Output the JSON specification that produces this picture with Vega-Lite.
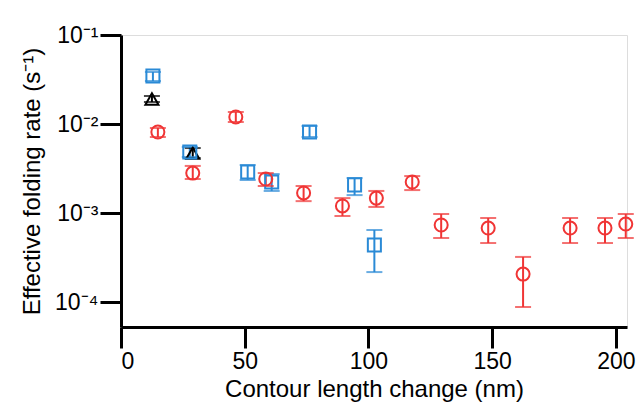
{
  "$schema": "https://vega.github.io/schema/vega-lite/v6.json",
  "width": 506,
  "height": 292,
  "autosize": "none",
  "padding": {"left": 121, "top": 35, "right": 11, "bottom": 79},
  "data": {
    "values": [
      {"series": "Monomer", "x": 12.5, "y": 0.0191, "lo": 0.01766, "hi": 0.02065},
      {"series": "Monomer", "x": 29, "y": 0.00472, "lo": 0.00415, "hi": 0.00537},
      {"series": "Dimer", "x": 12.9, "y": 0.0346, "lo": 0.0304, "hi": 0.0384},
      {"series": "Dimer", "x": 27.8, "y": 0.00484, "lo": 0.00426, "hi": 0.00552},
      {"series": "Dimer", "x": 51.2, "y": 0.00289, "lo": 0.00235, "hi": 0.00346},
      {"series": "Dimer", "x": 60.9, "y": 0.00223, "lo": 0.00177, "hi": 0.00274},
      {"series": "Dimer", "x": 76.2, "y": 0.00813, "lo": 0.00714, "hi": 0.0095},
      {"series": "Dimer", "x": 94.4, "y": 0.00207, "lo": 0.00159, "hi": 0.00247},
      {"series": "Dimer", "x": 102.4, "y": 0.000437, "lo": 0.000217, "hi": 0.000644},
      {"series": "Tetramer", "x": 14.9, "y": 0.00813, "lo": 0.00714, "hi": 0.00902},
      {"series": "Tetramer", "x": 29, "y": 0.00281, "lo": 0.00241, "hi": 0.00338},
      {"series": "Tetramer", "x": 46.4, "y": 0.012, "lo": 0.01053, "hi": 0.01365},
      {"series": "Tetramer", "x": 58.5, "y": 0.00241, "lo": 0.00201, "hi": 0.00281},
      {"series": "Tetramer", "x": 73.8, "y": 0.00168, "lo": 0.00136, "hi": 0.00201},
      {"series": "Tetramer", "x": 89.5, "y": 0.0012, "lo": 0.000925, "hi": 0.00147},
      {"series": "Tetramer", "x": 103.2, "y": 0.00147, "lo": 0.00117, "hi": 0.00177},
      {"series": "Tetramer", "x": 117.7, "y": 0.00223, "lo": 0.00181, "hi": 0.0026},
      {"series": "Tetramer", "x": 129.4, "y": 0.000733, "lo": 0.000524, "hi": 0.000975},
      {"series": "Tetramer", "x": 148.4, "y": 0.000678, "lo": 0.00046, "hi": 0.000879},
      {"series": "Tetramer", "x": 162.5, "y": 0.000206, "lo": 0.0000879, "hi": 0.000321},
      {"series": "Tetramer", "x": 181.5, "y": 0.000678, "lo": 0.00046, "hi": 0.000879},
      {"series": "Tetramer", "x": 195.6, "y": 0.000678, "lo": 0.00046, "hi": 0.000879},
      {"series": "Tetramer", "x": 204, "y": 0.000752, "lo": 0.000524, "hi": 0.000975}
    ]
  },
  "encoding": {
    "x": {"field": "x", "type": "quantitative", "scale": {"domain": [0, 204.5], "nice": false},
      "axis": {"values": [0, 50, 100, 150, 200], "gridOpacity": 0, "domainColor": "black", "domainWidth": 3, "tickColor": "black", "tickWidth": 3, "tickSize": 21, "labelPadding": 2, "labelFont": "Liberation Sans", "labelFontSize": 23, "labelColor": "black", "titleFont": "Liberation Sans", "titleFontSize": 24, "titleFontWeight": "normal", "titleColor": "black", "titlePadding": 4, "title": "Contour length change (nm)"}}
  },
  "layer": [
    {
      "mark": {"type": "rule", "strokeWidth": 2},
      "encoding": {
        "y": {"field": "lo", "type": "quantitative", "scale": {"type": "log", "domain": [0.0000524, 0.1], "nice": false},
          "axis": {"values": [0.0001, 0.001, 0.01, 0.1], "gridOpacity": 0, "domainColor": "black", "domainWidth": 3, "tickColor": "black", "tickWidth": 3, "tickSize": 21, "labelPadding": 2, "labelFont": "Liberation Sans", "labelFontSize": 23, "labelColor": "black",
            "labelExpr": "'10' + ['⁻¹','⁻²','⁻³','⁻⁴'][round(-log(datum.value)/LN10)-1]",
            "titleFont": "Liberation Sans", "titleFontSize": 24, "titleFontWeight": "normal", "titleColor": "black",
            "title": "Effective folding rate (s⁻¹)", "titlePadding": 10}},
        "y2": {"field": "hi"},
        "stroke": {"field": "series", "type": "nominal", "legend": null, "scale": {"domain": ["Monomer", "Dimer", "Tetramer"], "range": ["#000000", "#2a8ad6", "#f03535"]}}
      }
    },
    {
      "mark": {"type": "point", "shape": "M-1,0L1,0", "size": 256, "strokeWidth": 2, "filled": false},
      "encoding": {
        "y": {"field": "lo", "type": "quantitative"},
        "stroke": {"field": "series", "type": "nominal", "legend": null}
      }
    },
    {
      "mark": {"type": "point", "shape": "M-1,0L1,0", "size": 256, "strokeWidth": 2, "filled": false},
      "encoding": {
        "y": {"field": "hi", "type": "quantitative"},
        "stroke": {"field": "series", "type": "nominal", "legend": null}
      }
    },
    {
      "mark": {"type": "point", "filled": false, "strokeWidth": 2, "size": 170, "opacity": 1},
      "encoding": {
        "y": {"field": "y", "type": "quantitative"},
        "shape": {"field": "series", "type": "nominal", "scale": {"domain": ["Monomer", "Dimer", "Tetramer"], "range": ["triangle-up", "square", "circle"]}},
        "color": {"field": "series", "type": "nominal", "scale": {"domain": ["Monomer", "Dimer", "Tetramer"], "range": ["#000000", "#2a8ad6", "#f03535"]},
          "legend": {"title": null, "orient": "none", "legendX": 356, "legendY": 7, "strokeColor": "black", "fillColor": "white", "padding": 5, "symbolOffset": 8, "labelOffset": 6, "labelFont": "Liberation Sans", "labelFontSize": 24, "labelColor": "black", "symbolSize": 110, "symbolStrokeWidth": 2.5, "rowPadding": 0}}
      }
    }
  ]
}
